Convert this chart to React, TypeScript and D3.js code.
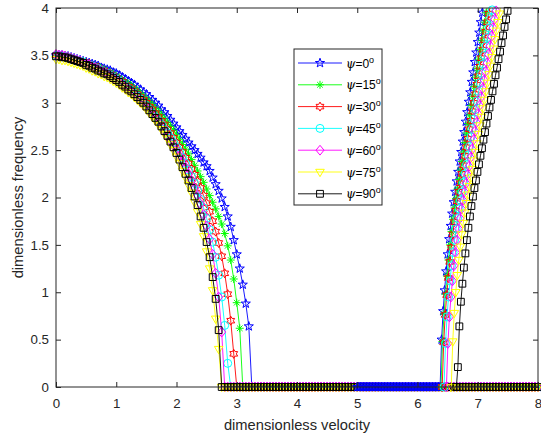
import React, { useEffect, useRef } from "react";
import * as d3 from "d3";

// legend entries / styles per skew angle
const psiAngles = ["0", "15", "30", "45", "60", "75", "90"];
const lineColors = ["#0000ff", "#00ff00", "#ff0000", "#00ffff", "#ff00ff", "#ffff00", "#000000"];
const markerKinds = ["pentagram", "asterisk", "hexagram", "circle", "diamond", "triangleDown", "square"];

const xTicks = [0, 1, 2, 3, 4, 5, 6, 7, 8];
const yTicks = [0, 0.5, 1, 1.5, 2, 2.5, 3, 3.5, 4];

// branch 1: frequency sampled every 0.05 in velocity, starting at U = 0
const stepLow = 0.05;
const branch1Psi0 = [
  3.50, 3.50, 3.50, 3.49, 3.49, 3.48, 3.47, 3.46, 3.45, 3.44,
  3.43, 3.42, 3.41, 3.40, 3.39, 3.37, 3.36, 3.35, 3.34, 3.32,
  3.31, 3.29, 3.27, 3.25, 3.23, 3.21, 3.19, 3.16, 3.14, 3.11,
  3.09, 3.06, 3.03, 3.00, 2.97, 2.93, 2.90, 2.86, 2.82, 2.78,
  2.74, 2.70, 2.66, 2.62, 2.58, 2.54, 2.50, 2.46, 2.42, 2.37,
  2.33, 2.28, 2.21, 2.14, 2.07, 1.99, 1.90, 1.80, 1.69, 1.55,
  1.40, 1.25, 1.08, 0.88, 0.64,
  0, 0, 0, 0, 0, 0, 0, 0, 0, 0, 0, 0, 0, 0, 0, 0,
  0, 0, 0, 0, 0, 0, 0, 0, 0, 0, 0, 0, 0, 0, 0, 0,
  0, 0, 0, 0, 0, 0, 0, 0, 0, 0, 0, 0, 0, 0, 0, 0,
  0, 0, 0, 0, 0, 0, 0, 0, 0, 0, 0, 0, 0, 0, 0, 0,
  0, 0, 0, 0, 0, 0, 0, 0, 0, 0, 0, 0, 0, 0, 0, 0,
  0, 0, 0, 0, 0, 0, 0, 0, 0, 0, 0, 0, 0, 0, 0, 0,
];
const branch1Psi15 = [
  3.50, 3.50, 3.50, 3.49, 3.49, 3.48, 3.47, 3.46, 3.45, 3.44,
  3.42, 3.41, 3.40, 3.39, 3.38, 3.36, 3.35, 3.33, 3.32, 3.30,
  3.28, 3.26, 3.24, 3.22, 3.20, 3.18, 3.15, 3.13, 3.10, 3.07,
  3.04, 3.01, 2.98, 2.94, 2.91, 2.87, 2.83, 2.79, 2.75, 2.71,
  2.66, 2.61, 2.56, 2.51, 2.46, 2.40, 2.34, 2.28, 2.22, 2.16,
  2.09, 2.02, 1.95, 1.88, 1.80, 1.72, 1.62, 1.49, 1.34, 1.14,
  0.89, 0.62,
  0, 0, 0, 0, 0, 0, 0, 0, 0, 0, 0, 0, 0, 0, 0, 0,
  0, 0, 0, 0, 0, 0, 0, 0, 0, 0, 0, 0, 0, 0, 0, 0,
  0, 0, 0, 0, 0, 0, 0, 0, 0, 0, 0, 0, 0, 0, 0, 0,
  0, 0, 0, 0, 0, 0, 0, 0, 0, 0, 0, 0, 0, 0, 0, 0,
  0, 0, 0, 0, 0, 0, 0, 0, 0, 0, 0, 0, 0, 0, 0, 0,
  0, 0, 0, 0, 0, 0, 0, 0, 0, 0, 0, 0, 0, 0, 0, 0,
  0, 0, 0,
];
const branch1Psi30 = [
  3.50, 3.50, 3.49, 3.49, 3.48, 3.47, 3.46, 3.45, 3.44, 3.43,
  3.42, 3.41, 3.39, 3.38, 3.37, 3.35, 3.33, 3.32, 3.30, 3.28,
  3.26, 3.24, 3.22, 3.19, 3.17, 3.15, 3.12, 3.09, 3.06, 3.03,
  3.00, 2.96, 2.93, 2.89, 2.85, 2.81, 2.77, 2.72, 2.68, 2.63,
  2.58, 2.53, 2.48, 2.42, 2.36, 2.30, 2.24, 2.17, 2.10, 2.02,
  1.94, 1.85, 1.75, 1.64, 1.52, 1.38, 1.20, 0.98, 0.70, 0.35,
  0, 0, 0, 0, 0, 0, 0, 0, 0, 0, 0, 0, 0, 0, 0, 0,
  0, 0, 0, 0, 0, 0, 0, 0, 0, 0, 0, 0, 0, 0, 0, 0,
  0, 0, 0, 0, 0, 0, 0, 0, 0, 0, 0, 0, 0, 0, 0, 0,
  0, 0, 0, 0, 0, 0, 0, 0, 0, 0, 0, 0, 0, 0, 0, 0,
  0, 0, 0, 0, 0, 0, 0, 0, 0, 0, 0, 0, 0, 0, 0, 0,
  0, 0, 0, 0, 0, 0, 0, 0, 0, 0, 0, 0, 0, 0, 0, 0,
  0, 0, 0, 0, 0,
];
const branch1Psi45 = [
  3.50, 3.50, 3.49, 3.49, 3.48, 3.47, 3.46, 3.45, 3.44, 3.43,
  3.41, 3.40, 3.39, 3.37, 3.36, 3.34, 3.32, 3.31, 3.29, 3.27,
  3.25, 3.23, 3.20, 3.18, 3.15, 3.13, 3.10, 3.07, 3.04, 3.00,
  2.97, 2.93, 2.89, 2.85, 2.81, 2.77, 2.72, 2.68, 2.63, 2.58,
  2.53, 2.48, 2.42, 2.36, 2.29, 2.22, 2.15, 2.07, 1.98, 1.89,
  1.78, 1.66, 1.53, 1.37, 1.18, 0.95, 0.65, 0.25,
  0, 0, 0, 0, 0, 0, 0, 0, 0, 0, 0, 0, 0, 0, 0, 0,
  0, 0, 0, 0, 0, 0, 0, 0, 0, 0, 0, 0, 0, 0, 0, 0,
  0, 0, 0, 0, 0, 0, 0, 0, 0, 0, 0, 0, 0, 0, 0, 0,
  0, 0, 0, 0, 0, 0, 0, 0, 0, 0, 0, 0, 0, 0, 0, 0,
  0, 0, 0, 0, 0, 0, 0, 0, 0, 0, 0, 0, 0, 0, 0, 0,
  0, 0, 0, 0, 0, 0, 0, 0, 0, 0, 0, 0, 0, 0, 0, 0,
  0, 0, 0, 0, 0, 0, 0,
];
const branch1Psi60 = [
  3.51, 3.50, 3.50, 3.49, 3.48, 3.47, 3.46, 3.45, 3.44, 3.42,
  3.41, 3.40, 3.38, 3.37, 3.35, 3.33, 3.32, 3.30, 3.28, 3.26,
  3.24, 3.21, 3.19, 3.16, 3.14, 3.11, 3.08, 3.05, 3.02, 2.98,
  2.95, 2.91, 2.87, 2.83, 2.79, 2.74, 2.70, 2.65, 2.60, 2.55,
  2.50, 2.44, 2.38, 2.32, 2.25, 2.18, 2.10, 2.02, 1.93, 1.82,
  1.70, 1.56, 1.40, 1.20, 0.95, 0.58,
  0, 0, 0, 0, 0, 0, 0, 0, 0, 0, 0, 0, 0, 0, 0, 0,
  0, 0, 0, 0, 0, 0, 0, 0, 0, 0, 0, 0, 0, 0, 0, 0,
  0, 0, 0, 0, 0, 0, 0, 0, 0, 0, 0, 0, 0, 0, 0, 0,
  0, 0, 0, 0, 0, 0, 0, 0, 0, 0, 0, 0, 0, 0, 0, 0,
  0, 0, 0, 0, 0, 0, 0, 0, 0, 0, 0, 0, 0, 0, 0, 0,
  0, 0, 0, 0, 0, 0, 0, 0, 0, 0, 0, 0, 0, 0, 0, 0,
  0, 0, 0, 0, 0, 0, 0, 0, 0,
];
const branch1Psi75 = [
  3.46, 3.46, 3.45, 3.45, 3.44, 3.43, 3.42, 3.41, 3.40, 3.39,
  3.37, 3.36, 3.34, 3.33, 3.31, 3.30, 3.28, 3.27, 3.25, 3.23,
  3.21, 3.19, 3.16, 3.14, 3.11, 3.09, 3.06, 3.03, 3.00, 2.97,
  2.93, 2.89, 2.85, 2.81, 2.77, 2.72, 2.67, 2.62, 2.56, 2.50,
  2.43, 2.36, 2.28, 2.21, 2.13, 2.05, 1.95, 1.85, 1.72, 1.59,
  1.43, 1.25, 1.02, 0.72, 0.40,
  0, 0, 0, 0, 0, 0, 0, 0, 0, 0, 0, 0, 0, 0, 0, 0,
  0, 0, 0, 0, 0, 0, 0, 0, 0, 0, 0, 0, 0, 0, 0, 0,
  0, 0, 0, 0, 0, 0, 0, 0, 0, 0, 0, 0, 0, 0, 0, 0,
  0, 0, 0, 0, 0, 0, 0, 0, 0, 0, 0, 0, 0, 0, 0, 0,
  0, 0, 0, 0, 0, 0, 0, 0, 0, 0, 0, 0, 0, 0, 0, 0,
  0, 0, 0, 0, 0, 0, 0, 0, 0, 0, 0, 0, 0, 0, 0, 0,
  0, 0, 0, 0, 0, 0, 0, 0, 0, 0,
];
const branch1Psi90 = [
  3.49, 3.49, 3.48, 3.48, 3.47, 3.46, 3.45, 3.44, 3.43, 3.42,
  3.40, 3.39, 3.37, 3.36, 3.34, 3.33, 3.31, 3.30, 3.28, 3.26,
  3.24, 3.22, 3.19, 3.17, 3.14, 3.12, 3.09, 3.06, 3.03, 3.00,
  2.96, 2.92, 2.88, 2.84, 2.80, 2.75, 2.70, 2.65, 2.59, 2.53,
  2.47, 2.40, 2.32, 2.25, 2.18, 2.10, 2.01, 1.92, 1.80, 1.68,
  1.53, 1.37, 1.16, 0.93, 0.60,
  0, 0, 0, 0, 0, 0, 0, 0, 0, 0, 0, 0, 0, 0, 0, 0,
  0, 0, 0, 0, 0, 0, 0, 0, 0, 0, 0, 0, 0, 0, 0, 0,
  0, 0, 0, 0, 0, 0, 0, 0, 0, 0, 0, 0, 0, 0, 0, 0,
  0, 0, 0, 0, 0, 0, 0, 0, 0, 0, 0, 0, 0, 0, 0, 0,
  0, 0, 0, 0, 0, 0, 0, 0, 0, 0, 0, 0, 0, 0, 0, 0,
  0, 0, 0, 0, 0, 0, 0, 0, 0, 0, 0, 0, 0, 0, 0, 0,
  0, 0, 0, 0, 0, 0, 0, 0, 0, 0,
];

// branch 2: sampled every 0.025 from its own starting velocity
const stepHigh = 0.025;
const branch2Start = [5.0, 6.39, 6.41, 6.44, 6.48, 6.56, 6.645];
const branch2Psi0 = [
  0, 0, 0, 0, 0, 0, 0, 0, 0, 0, 0, 0, 0, 0, 0, 0,
  0, 0, 0, 0, 0, 0, 0, 0, 0, 0, 0, 0, 0, 0, 0, 0,
  0, 0, 0, 0, 0, 0, 0, 0, 0, 0, 0, 0, 0, 0, 0, 0,
  0, 0, 0, 0, 0, 0, 0, 0,
  0.50, 0.80, 1.02, 1.22, 1.40, 1.56, 1.70, 1.83, 1.95, 2.06,
  2.17, 2.27, 2.38, 2.48, 2.59, 2.69, 2.80, 2.90, 3.01, 3.11,
  3.22, 3.32, 3.43, 3.53, 3.64, 3.74, 3.85, 3.95, 4.06,
];
const branch2Psi15 = [
  0, 0.48, 0.77, 0.98, 1.17, 1.34, 1.50, 1.64, 1.77, 1.89, 1.99,
  2.09, 2.19, 2.29, 2.38, 2.48, 2.58, 2.68, 2.78, 2.87, 2.97,
  3.07, 3.17, 3.27, 3.36, 3.46, 3.56, 3.66, 3.76, 3.85, 3.95, 4.05,
];
const branch2Psi30 = [
  0, 0.47, 0.76, 0.97, 1.15, 1.32, 1.47, 1.61, 1.74, 1.86, 1.96,
  2.06, 2.15, 2.25, 2.34, 2.44, 2.53, 2.62, 2.72, 2.81, 2.91,
  3.00, 3.09, 3.19, 3.28, 3.38, 3.47, 3.56, 3.66, 3.75, 3.85, 3.94, 4.03,
];
const branch2Psi45 = [
  0, 0.46, 0.74, 0.95, 1.12, 1.28, 1.42, 1.55, 1.67, 1.78, 1.88,
  1.97, 2.06, 2.16, 2.25, 2.35, 2.45, 2.54, 2.64, 2.73, 2.83,
  2.93, 3.02, 3.12, 3.21, 3.31, 3.41, 3.50, 3.60, 3.69, 3.79, 3.89, 3.98, 4.08,
];
const branch2Psi60 = [
  0, 0.46, 0.74, 0.95, 1.12, 1.28, 1.42, 1.55, 1.67, 1.78, 1.88,
  1.97, 2.06, 2.15, 2.24, 2.33, 2.42, 2.51, 2.61, 2.70, 2.79,
  2.88, 2.97, 3.06, 3.15, 3.24, 3.33, 3.42, 3.51, 3.60, 3.70, 3.79, 3.88, 3.97, 4.06,
];
const branch2Psi75 = [
  0, 0.48, 0.78, 1.00, 1.18, 1.34, 1.48, 1.61, 1.73, 1.84, 1.94,
  2.03, 2.12, 2.21, 2.30, 2.39, 2.48, 2.57, 2.67, 2.76, 2.85,
  2.94, 3.03, 3.12, 3.21, 3.30, 3.39, 3.48, 3.57, 3.67, 3.76, 3.85, 3.94, 4.03,
];
const branch2Psi90 = [
  0, 0.21, 0.64, 0.90, 1.09, 1.26, 1.41, 1.55, 1.68, 1.80, 1.91,
  2.01, 2.10, 2.18, 2.27, 2.35, 2.44, 2.52, 2.61, 2.69, 2.78,
  2.86, 2.95, 3.03, 3.12, 3.20, 3.29, 3.37, 3.46, 3.54, 3.63, 3.71, 3.80, 3.88, 3.97, 4.05,
];

const branch1 = [branch1Psi0, branch1Psi15, branch1Psi30, branch1Psi45, branch1Psi60, branch1Psi75, branch1Psi90];
const branch2 = [branch2Psi0, branch2Psi15, branch2Psi30, branch2Psi45, branch2Psi60, branch2Psi75, branch2Psi90];

// marker outlines (MATLAB-like), centred on 0,0
function starPath(n: number, R: number, r: number) {
  const pts: string[] = [];
  for (let i = 0; i < 2 * n; i++) {
    const a = -Math.PI / 2 + (i * Math.PI) / n;
    const rad = i % 2 === 0 ? R : r;
    pts.push(`${(rad * Math.cos(a)).toFixed(2)},${(rad * Math.sin(a)).toFixed(2)}`);
  }
  return "M" + pts.join("L") + "Z";
}

function markerPath(kind: string) {
  switch (kind) {
    case "pentagram":
      return starPath(5, 4.8, 1.9);
    case "hexagram":
      return starPath(6, 4.5, 2.6);
    case "asterisk":
      return "M-4,0H4M0,-4V4M-2.8,-2.8L2.8,2.8M-2.8,2.8L2.8,-2.8";
    case "circle":
      return "M4,0A4,4 0 1,1 -4,0A4,4 0 1,1 4,0Z";
    case "diamond":
      return "M0,-4.9L4,0L0,4.9L-4,0Z";
    case "triangleDown":
      return "M-4.3,-2.7L4.3,-2.7L0,4.7Z";
    default:
      return "M-3.4,-3.4H3.4V3.4H-3.4Z";
  }
}

const App = () => {
  const svgRef = useRef<SVGSVGElement>(null);

  useEffect(() => {
    const width = 541,
      height = 439;
    const margin = { top: 8, right: 3, bottom: 52, left: 56 };
    const innerW = width - margin.left - margin.right;
    const innerH = height - margin.top - margin.bottom;
    const axisColor = "#262626";
    const font = "'Liberation Sans', Arial, Helvetica, sans-serif";

    const svg = d3.select(svgRef.current).attr("width", width).attr("height", height);
    svg.selectAll("*").remove();
    svg.append("rect").attr("width", width).attr("height", height).attr("fill", "#fff");

    const g = svg.append("g").attr("transform", `translate(${margin.left},${margin.top})`);

    const x = d3.scaleLinear().domain([0, 8]).range([0, innerW]);
    const y = d3.scaleLinear().domain([0, 4]).range([innerH, 0]);

    g.append("defs")
      .append("clipPath")
      .attr("id", "plot-clip")
      .append("rect")
      .attr("width", innerW)
      .attr("height", innerH);

    const line = d3
      .line<[number, number]>()
      .x((d) => x(d[0]))
      .y((d) => y(d[1]));

    const drawSeries = (pts: [number, number][], i: number) => {
      const color = lineColors[i];
      g.append("path")
        .datum(pts)
        .attr("clip-path", "url(#plot-clip)")
        .attr("fill", "none")
        .attr("stroke", color)
        .attr("stroke-width", 0.9)
        .attr("d", line);
      g.append("g")
        .selectAll("path")
        .data(pts.filter((d) => d[1] <= 4.0001 && d[0] <= 8.0001))
        .enter()
        .append("path")
        .attr("transform", (d) => `translate(${x(d[0])},${y(d[1])})`)
        .attr("d", markerPath(markerKinds[i]))
        .attr("fill", "none")
        .attr("stroke", color)
        .attr("stroke-width", 1);
    };

    branch1.forEach((vals, i) => {
      const pts = vals
        .map((v, k) => [k * stepLow, v] as [number, number])
        .filter((d) => d[0] <= 8.0001);
      drawSeries(pts, i);
    });
    branch2.forEach((vals, i) => {
      const pts = vals.map((v, k) => [branch2Start[i] + k * stepHigh, v] as [number, number]);
      drawSeries(pts, i);
    });

    // axes with inward ticks on all four sides
    const styleAxis = (sel: d3.Selection<SVGGElement, unknown, null, undefined>) => {
      sel.select(".domain").remove();
      sel.selectAll("line").attr("stroke", axisColor);
      sel.selectAll("text").attr("fill", axisColor).style("font-family", font).style("font-size", "13.3px");
    };

    const bottom = g
      .append("g")
      .attr("transform", `translate(0,${innerH})`)
      .call(d3.axisBottom(x).tickValues(xTicks).tickSizeInner(-5).tickSizeOuter(0).tickPadding(12).tickFormat(d3.format("d")));
    styleAxis(bottom);
    const top = g
      .append("g")
      .call(d3.axisTop(x).tickValues(xTicks).tickSizeInner(-5).tickSizeOuter(0).tickFormat(() => ""));
    styleAxis(top);
    const left = g
      .append("g")
      .call(d3.axisLeft(y).tickValues(yTicks).tickSizeInner(-5).tickSizeOuter(0).tickPadding(7).tickFormat((d) => String(d)));
    styleAxis(left);
    const right = g
      .append("g")
      .attr("transform", `translate(${innerW},0)`)
      .call(d3.axisRight(y).tickValues(yTicks).tickSizeInner(-5).tickSizeOuter(0).tickFormat(() => ""));
    styleAxis(right);

    g.append("rect")
      .attr("x", 0)
      .attr("y", 0)
      .attr("width", innerW)
      .attr("height", innerH)
      .attr("fill", "none")
      .attr("stroke", axisColor)
      .attr("stroke-width", 1);

    // axis labels
    svg
      .append("text")
      .attr("x", margin.left + innerW / 2)
      .attr("y", 430)
      .attr("text-anchor", "middle")
      .attr("fill", axisColor)
      .style("font-family", font)
      .style("font-size", "14.7px")
      .text("dimensionless velocity");
    svg
      .append("text")
      .attr("transform", `translate(23,${margin.top + innerH / 2}) rotate(-90)`)
      .attr("text-anchor", "middle")
      .attr("fill", axisColor)
      .style("font-family", font)
      .style("font-size", "14.7px")
      .text("dimensionless frequency");

    // legend
    const lg = svg.append("g").attr("transform", "translate(294,49)");
    lg.append("rect")
      .attr("width", 88)
      .attr("height", 156)
      .attr("fill", "#fff")
      .attr("stroke", axisColor)
      .attr("stroke-width", 1);
    psiAngles.forEach((a, i) => {
      const row = lg.append("g").attr("transform", `translate(0,${14 + i * 21.8})`);
      row.append("line").attr("x1", 4).attr("x2", 48).attr("stroke", lineColors[i]).attr("stroke-width", 0.9);
      row.append("path")
        .attr("transform", "translate(26,0)")
        .attr("d", markerPath(markerKinds[i]))
        .attr("fill", "none")
        .attr("stroke", lineColors[i])
        .attr("stroke-width", 1);
      const t = row
        .append("text")
        .attr("x", 52)
        .attr("y", 4.5)
        .attr("fill", "#000")
        .style("font-family", font)
        .style("font-size", "12px");
      t.append("tspan").style("font-family", "'DejaVu Serif', 'Liberation Serif', serif").style("font-style", "italic").text("ψ");
      t.append("tspan").text(`=${a}`);
      t.append("tspan").attr("dy", -5).style("font-size", "9px").text("o");
    });
  }, []);

  return <svg ref={svgRef} style={{ position: "absolute", left: 0, top: 0 }}></svg>;
};

export default App;
